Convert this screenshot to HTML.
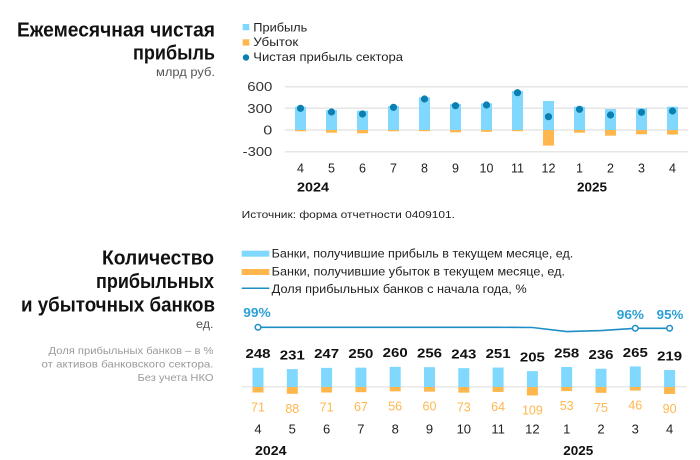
<!DOCTYPE html>
<html>
<head>
<meta charset="utf-8">
<style>
html,body{margin:0;padding:0;background:#fff;}
svg{display:block;}
text{font-family:"Liberation Sans",sans-serif;}
</style>
</head>
<body>
<svg width="700" height="460" viewBox="0 0 700 460" xmlns="http://www.w3.org/2000/svg">
<!-- ===== Titles left ===== -->
<g fill="#111" font-weight="bold" font-size="20" text-anchor="end">
  <text x="215" y="36.5" textLength="198" lengthAdjust="spacingAndGlyphs">Ежемесячная чистая</text>
  <text x="215" y="59.5" textLength="82" lengthAdjust="spacingAndGlyphs">прибыль</text>
  <text x="214" y="264.3" textLength="112" lengthAdjust="spacingAndGlyphs">Количество</text>
  <text x="214" y="288" textLength="118" lengthAdjust="spacingAndGlyphs">прибыльных</text>
  <text x="215" y="311.5" textLength="194" lengthAdjust="spacingAndGlyphs">и убыточных банков</text>
</g>
<text x="215" y="76" text-anchor="end" font-size="11.5" fill="#555" textLength="59" lengthAdjust="spacingAndGlyphs">млрд руб.</text>
<text x="213.5" y="328" text-anchor="end" font-size="11.5" fill="#555" textLength="17.5" lengthAdjust="spacingAndGlyphs">ед.</text>
<g fill="#9a9a9a" font-size="10.5" text-anchor="end">
  <text x="213.5" y="354" textLength="165" lengthAdjust="spacingAndGlyphs">Доля прибыльных банков – в %</text>
  <text x="213.5" y="367.5" textLength="172" lengthAdjust="spacingAndGlyphs">от активов банковского сектора.</text>
  <text x="213.5" y="381" textLength="76" lengthAdjust="spacingAndGlyphs">Без учета НКО</text>
</g>

<!-- ===== Top legend ===== -->
<rect x="242.7" y="24" width="6.6" height="6.3" fill="#80d8ff"/>
<rect x="242.7" y="39.3" width="6.6" height="6.3" fill="#ffb74d"/>
<circle cx="246" cy="57.5" r="3.2" fill="#0a7fb0"/>
<g fill="#222" font-size="12">
  <text x="253.3" y="31.3" textLength="54" lengthAdjust="spacingAndGlyphs">Прибыль</text>
  <text x="253.3" y="46" textLength="45" lengthAdjust="spacingAndGlyphs">Убыток</text>
  <text x="253.3" y="61" textLength="149.7" lengthAdjust="spacingAndGlyphs">Чистая прибыль сектора</text>
</g>

<!-- ===== Top chart gridlines ===== -->
<g stroke="#e6e6e6" stroke-width="1.5">
  <line x1="285" y1="86.7" x2="688" y2="86.7"/>
  <line x1="285" y1="108.3" x2="688" y2="108.3"/>
  <line x1="285" y1="130" x2="688" y2="130"/>
  <line x1="285" y1="151.7" x2="688" y2="151.7"/>
</g>
<g fill="#333" font-size="12.5" text-anchor="end">
  <text x="272.3" y="91.2" textLength="25" lengthAdjust="spacingAndGlyphs">600</text>
  <text x="272.3" y="112.8" textLength="25" lengthAdjust="spacingAndGlyphs">300</text>
  <text x="272.3" y="134.5" textLength="9" lengthAdjust="spacingAndGlyphs">0</text>
  <text x="272.3" y="156.2" textLength="29.6" lengthAdjust="spacingAndGlyphs">-300</text>
</g>

<!-- profit bars top -->
<g fill="#80d8ff">
  <rect x="295" y="106.7" width="11" height="23.3"/>
  <rect x="326" y="110" width="11" height="20"/>
  <rect x="357" y="110.7" width="11" height="19.3"/>
  <rect x="388" y="106" width="11" height="24"/>
  <rect x="419" y="97.3" width="11" height="32.7"/>
  <rect x="450" y="104" width="11" height="26"/>
  <rect x="481" y="103.3" width="11" height="26.7"/>
  <rect x="512" y="91" width="11" height="39"/>
  <rect x="543" y="101" width="11" height="29"/>
  <rect x="574" y="106.7" width="11" height="23.3"/>
  <rect x="605" y="109" width="11" height="21"/>
  <rect x="636" y="108.3" width="11" height="21.7"/>
  <rect x="667" y="106.7" width="11" height="23.3"/>
</g>
<!-- loss bars top -->
<g fill="#ffb74d">
  <rect x="295" y="130" width="11" height="1.3"/>
  <rect x="326" y="130" width="11" height="2.7"/>
  <rect x="357" y="130" width="11" height="3.3"/>
  <rect x="388" y="130" width="11" height="1.3"/>
  <rect x="419" y="130" width="11" height="1.2"/>
  <rect x="450" y="130" width="11" height="2.3"/>
  <rect x="481" y="130" width="11" height="1.8"/>
  <rect x="512" y="130" width="11" height="1.2"/>
  <rect x="543" y="130" width="11" height="15.6"/>
  <rect x="574" y="130" width="11" height="2.7"/>
  <rect x="605" y="130" width="11" height="5.7"/>
  <rect x="636" y="130" width="11" height="4.3"/>
  <rect x="667" y="130" width="11" height="4.6"/>
</g>
<!-- net dots -->
<g fill="#0a7fb0">
  <circle cx="300.5" cy="108.3" r="3.6"/>
  <circle cx="331.5" cy="112" r="3.6"/>
  <circle cx="362.5" cy="114" r="3.6"/>
  <circle cx="393.5" cy="107.3" r="3.6"/>
  <circle cx="424.5" cy="99" r="3.6"/>
  <circle cx="455.5" cy="105.7" r="3.6"/>
  <circle cx="486.5" cy="105" r="3.6"/>
  <circle cx="517.5" cy="92.7" r="3.6"/>
  <circle cx="548.5" cy="116.7" r="3.6"/>
  <circle cx="579.5" cy="109.3" r="3.6"/>
  <circle cx="610.5" cy="115" r="3.6"/>
  <circle cx="641.5" cy="112.3" r="3.6"/>
  <circle cx="672.5" cy="111" r="3.6"/>
</g>
<!-- top month labels -->
<g fill="#222" font-size="12.5" text-anchor="middle">
  <text x="300.5" y="172.5">4</text>
  <text x="331.5" y="172.5">5</text>
  <text x="362.5" y="172.5">6</text>
  <text x="393.5" y="172.5">7</text>
  <text x="424.5" y="172.5">8</text>
  <text x="455.5" y="172.5">9</text>
  <text x="486.5" y="172.5">10</text>
  <text x="517.5" y="172.5">11</text>
  <text x="548.5" y="172.5">12</text>
  <text x="579.5" y="172.5">1</text>
  <text x="610.5" y="172.5">2</text>
  <text x="641.5" y="172.5">3</text>
  <text x="672.5" y="172.5">4</text>
</g>
<g fill="#111" font-size="12.5" font-weight="bold">
  <text x="297" y="191.5" textLength="32" lengthAdjust="spacingAndGlyphs">2024</text>
  <text x="577" y="191.5" textLength="30" lengthAdjust="spacingAndGlyphs">2025</text>
</g>

<!-- source -->
<text x="241.7" y="218" font-size="10.5" fill="#222" textLength="213.3" lengthAdjust="spacingAndGlyphs">Источник: форма отчетности 0409101.</text>

<!-- ===== Bottom legend ===== -->
<rect x="241.7" y="250.7" width="27.6" height="6" fill="#80d8ff"/>
<rect x="241.7" y="269" width="27.6" height="6" fill="#ffb74d"/>
<line x1="241.7" y1="288.3" x2="269.3" y2="288.3" stroke="#1e8fc6" stroke-width="1.5"/>
<g fill="#222" font-size="12">
  <text x="271.7" y="257.5" textLength="301.6" lengthAdjust="spacingAndGlyphs">Банки, получившие прибыль в текущем месяце, ед.</text>
  <text x="271.7" y="275.5" textLength="293.3" lengthAdjust="spacingAndGlyphs">Банки, получившие убыток в текущем месяце, ед.</text>
  <text x="271.7" y="293" textLength="255" lengthAdjust="spacingAndGlyphs">Доля прибыльных банков с начала года, %</text>
</g>

<!-- ===== Bottom chart ===== -->
<!-- percent line -->
<polyline fill="none" stroke="#1e8fc6" stroke-width="1.6"
  points="258,327.3 292.3,327.3 326.6,327.3 360.9,327.3 395.2,327.3 429.5,327.3 463.8,327.3 498.1,327.3 532.4,327.5 566.7,331.6 601,330.6 635.3,328.3 669.6,328.3"/>
<g fill="#fff" stroke="#1e8fc6" stroke-width="1.5">
  <circle cx="258" cy="327.3" r="2.8"/>
  <circle cx="635.3" cy="328.3" r="2.8"/>
  <circle cx="669.6" cy="328.3" r="2.8"/>
</g>
<g fill="#2a9fd6" font-size="12.5" font-weight="bold" text-anchor="middle">
  <text x="257" y="316.8" textLength="27.4" lengthAdjust="spacingAndGlyphs">99%</text>
  <text x="630.4" y="318.8" textLength="27.3" lengthAdjust="spacingAndGlyphs">96%</text>
  <text x="670" y="318.8" textLength="26.6" lengthAdjust="spacingAndGlyphs">95%</text>
</g>
<!-- baseline -->
<line x1="241.7" y1="386.8" x2="686.7" y2="386.8" stroke="#e2e2e2" stroke-width="1.2"/>
<!-- profit bars -->
<g fill="#80d8ff">
  <rect x="252.5" y="367.78" width="11" height="19.22"/>
  <rect x="286.8" y="369.1" width="11" height="17.9"/>
  <rect x="321.1" y="367.86" width="11" height="19.14"/>
  <rect x="355.4" y="367.63" width="11" height="19.37"/>
  <rect x="389.7" y="366.85" width="11" height="20.15"/>
  <rect x="424" y="367.16" width="11" height="19.84"/>
  <rect x="458.3" y="368.17" width="11" height="18.83"/>
  <rect x="492.6" y="367.55" width="11" height="19.45"/>
  <rect x="526.9" y="371.11" width="11" height="15.89"/>
  <rect x="561.2" y="367" width="11" height="20"/>
  <rect x="595.5" y="368.71" width="11" height="18.29"/>
  <rect x="629.8" y="366.46" width="11" height="20.54"/>
  <rect x="664.1" y="370.03" width="11" height="16.97"/>
</g>
<!-- loss bars -->
<g fill="#ffb74d">
  <rect x="252.5" y="387" width="11" height="5.5"/>
  <rect x="286.8" y="387" width="11" height="6.82"/>
  <rect x="321.1" y="387" width="11" height="5.5"/>
  <rect x="355.4" y="387" width="11" height="5.19"/>
  <rect x="389.7" y="387" width="11" height="4.34"/>
  <rect x="424" y="387" width="11" height="4.65"/>
  <rect x="458.3" y="387" width="11" height="5.66"/>
  <rect x="492.6" y="387" width="11" height="4.96"/>
  <rect x="526.9" y="387" width="11" height="8.45"/>
  <rect x="561.2" y="387" width="11" height="4.11"/>
  <rect x="595.5" y="387" width="11" height="5.81"/>
  <rect x="629.8" y="387" width="11" height="3.57"/>
  <rect x="664.1" y="387" width="11" height="6.98"/>
</g>
<!-- profit labels -->
<g fill="#111" font-size="13" font-weight="bold" text-anchor="middle">
  <text x="258" y="358.1" textLength="25" lengthAdjust="spacingAndGlyphs">248</text>
  <text x="292.3" y="359.4" textLength="25" lengthAdjust="spacingAndGlyphs">231</text>
  <text x="326.6" y="358.2" textLength="25" lengthAdjust="spacingAndGlyphs">247</text>
  <text x="360.9" y="357.9" textLength="25" lengthAdjust="spacingAndGlyphs">250</text>
  <text x="395.2" y="357.2" textLength="25" lengthAdjust="spacingAndGlyphs">260</text>
  <text x="429.5" y="357.5" textLength="25" lengthAdjust="spacingAndGlyphs">256</text>
  <text x="463.8" y="358.5" textLength="25" lengthAdjust="spacingAndGlyphs">243</text>
  <text x="498.1" y="357.9" textLength="25" lengthAdjust="spacingAndGlyphs">251</text>
  <text x="532.4" y="361.4" textLength="25" lengthAdjust="spacingAndGlyphs">205</text>
  <text x="566.7" y="357.3" textLength="25" lengthAdjust="spacingAndGlyphs">258</text>
  <text x="601" y="359" textLength="25" lengthAdjust="spacingAndGlyphs">236</text>
  <text x="635.3" y="356.8" textLength="25" lengthAdjust="spacingAndGlyphs">265</text>
  <text x="669.6" y="360.3" textLength="25" lengthAdjust="spacingAndGlyphs">219</text>
</g>
<!-- loss labels -->
<g fill="#ffb74d" font-size="12.5" text-anchor="middle">
  <text x="258" y="411.5">71</text>
  <text x="292.3" y="412.8">88</text>
  <text x="326.6" y="411.5">71</text>
  <text x="360.9" y="411.2">67</text>
  <text x="395.2" y="410.3">56</text>
  <text x="429.5" y="410.7">60</text>
  <text x="463.8" y="411.7">73</text>
  <text x="498.1" y="411">64</text>
  <text x="532.4" y="414.5">109</text>
  <text x="566.7" y="410.1">53</text>
  <text x="601" y="411.8">75</text>
  <text x="635.3" y="409.6">46</text>
  <text x="669.6" y="413">90</text>
</g>
<!-- bottom month labels -->
<g fill="#222" font-size="13" text-anchor="middle">
  <text x="258" y="433.5">4</text>
  <text x="292.3" y="433.5">5</text>
  <text x="326.6" y="433.5">6</text>
  <text x="360.9" y="433.5">7</text>
  <text x="395.2" y="433.5">8</text>
  <text x="429.5" y="433.5">9</text>
  <text x="463.8" y="433.5">10</text>
  <text x="498.1" y="433.5">11</text>
  <text x="532.4" y="433.5">12</text>
  <text x="566.7" y="433.5">1</text>
  <text x="601" y="433.5">2</text>
  <text x="635.3" y="433.5">3</text>
  <text x="669.6" y="433.5">4</text>
</g>
<g fill="#111" font-size="12.5" font-weight="bold">
  <text x="255" y="455" textLength="31.5" lengthAdjust="spacingAndGlyphs">2024</text>
  <text x="563.3" y="455" textLength="30" lengthAdjust="spacingAndGlyphs">2025</text>
</g>
</svg>
</body>
</html>
